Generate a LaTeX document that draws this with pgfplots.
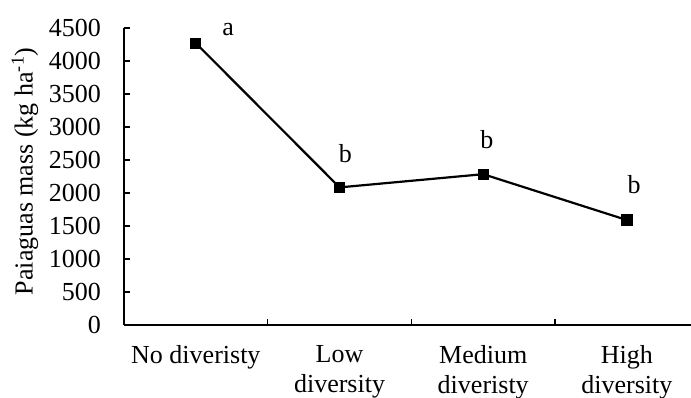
\documentclass[border=0pt]{standalone}
\usepackage{fontspec}
\setmainfont{Liberation Serif}
\usepackage{pgfplots}
\pgfplotsset{compat=1.18}
\begin{document}
\begin{tikzpicture}
\useasboundingbox (-124pt,-73pt) rectangle (567pt,325pt);
\begin{axis}[
  at={(0pt,0pt)}, anchor=south west,
  scale only axis, width=567pt, height=297pt,
  xmin=-0.5, xmax=3.446, ymin=0, ymax=4500,
  axis x line*=bottom, axis y line*=left,
  axis line style={line width=2pt, -},
  xtick={0,1,2,3},
  xticklabels={No diveristy, Low\\diversity, Medium\\diveristy, High\\diversity},
  minor xtick={0.5,1.5,2.5},
  major x tick style={draw=none},
  minor tick length=6pt,
  minor x tick style={line width=1.5pt, black},
  ytick={0,500,...,4500},
  major tick length=6pt,
  y tick style={line width=1.5pt, black},
  tick align=inside,
  /pgf/number format/assume math mode=true,
  /pgf/number format/1000 sep={},
  tick label style={font=\fontsize{26}{30}\selectfont},
  xticklabel style={align=center, anchor=north, inner sep=0pt, yshift=-20pt},
  yticklabel style={anchor=east, inner sep=0pt, xshift=-23pt},
  ylabel={Paiaguas mass (kg ha\textsuperscript{-1})},
  ylabel style={font=\fontsize{26}{31}\selectfont, at={(axis description cs:-0.1746,0.517)}, anchor=center},
  clip=false,
]
\addplot[black, line width=2.2pt, mark=square*, mark size=4.5pt, mark options={solid}]
  coordinates {(0,4270) (1,2085) (2,2285) (3,1590)};
\node[font=\fontsize{26}{31}\selectfont, anchor=center] at (axis cs:0.224,4470) {a};
\node[font=\fontsize{26}{31}\selectfont, anchor=center] at (axis cs:1.04,2590) {b};
\node[font=\fontsize{26}{31}\selectfont, anchor=center] at (axis cs:2.026,2803) {b};
\node[font=\fontsize{26}{31}\selectfont, anchor=center] at (axis cs:3.05,2121) {b};
\end{axis}
\end{tikzpicture}
\end{document}
